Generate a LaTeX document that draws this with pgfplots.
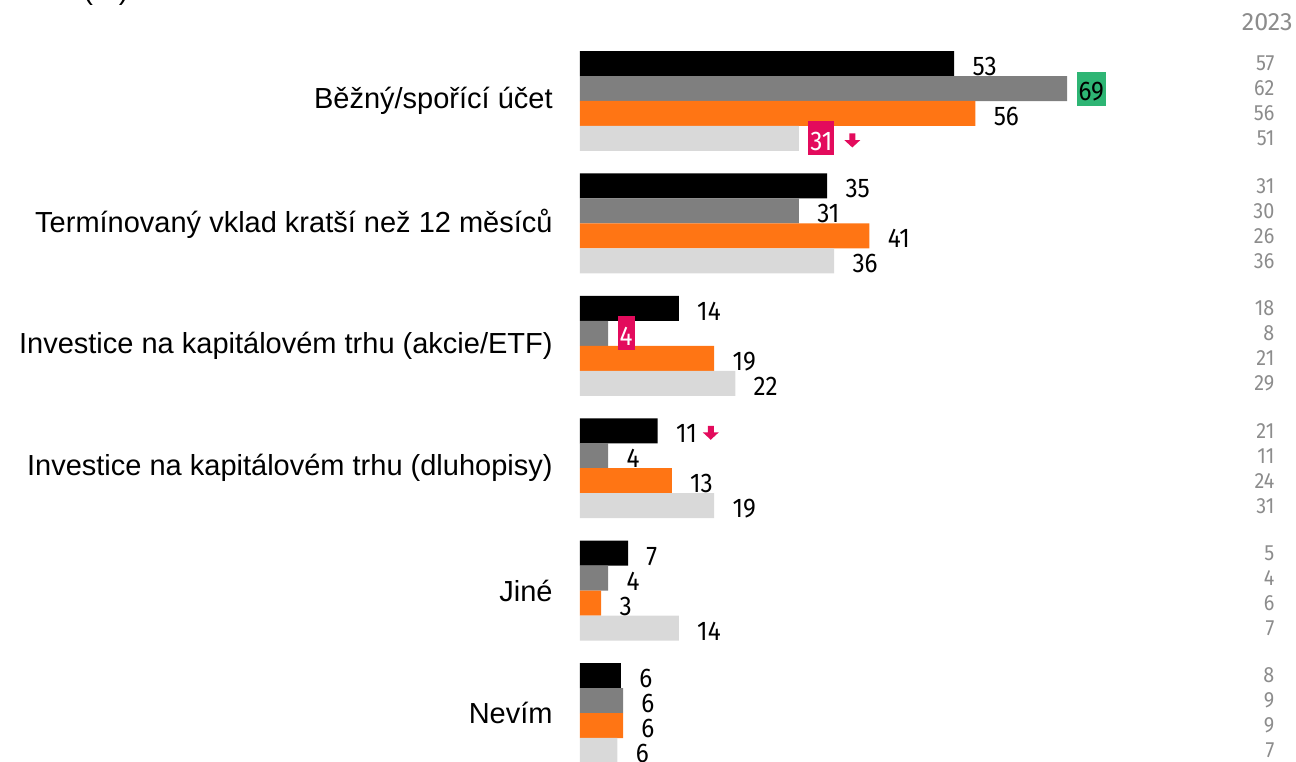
\documentclass[border=0pt]{standalone}
\usepackage{pgfplots}
\pgfplotsset{compat=1.18}
\usepackage{fontspec}
\setmainfont{Liberation Sans}
\newfontfamily\numfont[FakeStretch=0.9]{Fira Sans}
\newfontfamily\yearfont{Fira Sans}
\definecolor{cgrey}{HTML}{7F7F7F}
\definecolor{corange}{HTML}{FF7514}
\definecolor{clight}{HTML}{D9D9D9}
\definecolor{cgreen}{HTML}{2EB574}
\definecolor{cred}{HTML}{E30B5C}
\definecolor{ctext}{HTML}{8C8C8C}
\NewDocumentCommand\good{m}{\hspace*{-4.5pt}{\setlength\fboxsep{1pt}\colorbox{cgreen}{\rule[-1.5pt]{0pt}{15pt}#1}}}
\NewDocumentCommand\bad{m}{\hspace*{-4.5pt}{\setlength\fboxsep{1pt}\colorbox{cred}{\rule[-1.5pt]{0pt}{15pt}\color{white}#1}}}
\NewDocumentCommand\darr{}{\tikz[x=1pt,y=1pt,baseline=0pt]\fill[cred] (-1.5,8.5)--(1.5,8.5)--(1.5,5.2)--(4,5.2)--(0,1.5)--(-4,5.2)--(-1.5,5.2)--cycle;}
\pgfplotsset{
 vlab/.style={nodes near coords, every node near coord/.style={anchor=west, inner sep=0pt, xshift=9pt, yshift=-1.5pt, text height=9pt, text depth=0pt, font=\numfont\fontsize{13.5}{15}\selectfont, text=black}},
 hbar/.style={xbar, bar shift=0pt, draw=none, fill=#1},
}
\begin{document}
\begin{tikzpicture}
\path[use as bounding box, clip] (0,0) rectangle (648pt,-380.5pt);
\node[anchor=base west, inner sep=0pt, font=\fontsize{14.5}{17}\selectfont] at (41.5pt,0.5pt) {(\%)};
\begin{axis}[
 at={(290pt,-19.9pt)}, anchor=north west,
 x=3.53pt, y=61.2pt, y dir=reverse,
 xmin=0, xmax=100, ymin=-0.5, ymax=5.5,
 axis line style={draw=none}, tick style={draw=none}, major tick length=0pt,
 xtick=\empty, ytick={0,1,2,3,4,5},
 yticklabels={Běžný/spořící účet, Termínovaný vklad kratší než 12 měsíců, Investice na kapitálovém trhu (akcie/ETF), Investice na kapitálovém trhu (dluhopisy), Jiné, Nevím},
 yticklabel style={font=\fontsize{14.5}{17}\selectfont, inner sep=0pt, anchor=east, xshift=-13.5pt},
 clip=false,
 bar width=12.5pt,
 point meta=explicit symbolic,
]
\addplot[hbar=black, vlab] coordinates {(53,-0.306)[53] (35,0.694)[35] (14,1.694)[14] (11,2.694)[11\hspace{3pt}\darr] (6.8,3.694)[7] (5.8,4.694)[6]};
\addplot[hbar=cgrey, vlab] coordinates {(69,-0.102)[\good{69}] (31,0.898)[31] (4,1.898)[\bad{4}] (4,2.898)[4] (4,3.898)[4] (6.1,4.898)[6]};
\addplot[hbar=corange, vlab] coordinates {(56,0.102)[56] (41,1.102)[41] (19,2.102)[19] (13,3.102)[13] (3,4.102)[3] (6.1,5.102)[6]};
\addplot[hbar=clight, vlab] coordinates {(31,0.306)[\bad{31}\hspace{5pt}\darr] (36,1.306)[36] (22,2.306)[22] (19,3.306)[19] (14,4.306)[14] (5.3,5.306)[6]};
% previous year (2023)
\addplot[draw=none, mark=none, nodes near coords, every node near coord/.style={anchor=east, inner sep=0pt, font=\numfont\fontsize{11}{13}\selectfont, text=ctext}] coordinates {
 (98.4,-0.306)[57] (98.4,-0.102)[62] (98.4,0.102)[56] (98.4,0.306)[51]
 (98.4,0.694)[31] (98.4,0.898)[30] (98.4,1.102)[26] (98.4,1.306)[36]
 (98.4,1.694)[18] (98.4,1.898)[8] (98.4,2.102)[21] (98.4,2.306)[29]
 (98.4,2.694)[21] (98.4,2.898)[11] (98.4,3.102)[24] (98.4,3.306)[31]
 (98.4,3.694)[5] (98.4,3.898)[4] (98.4,4.102)[6] (98.4,4.306)[7]
 (98.4,4.694)[8] (98.4,4.898)[9] (98.4,5.102)[9] (98.4,5.306)[7]};
\node[anchor=east, inner sep=0pt, font=\yearfont\fontsize{12.5}{14}\selectfont, text=ctext] at (axis cs:101,-0.645) {2023};
\end{axis}
\end{tikzpicture}
\end{document}
